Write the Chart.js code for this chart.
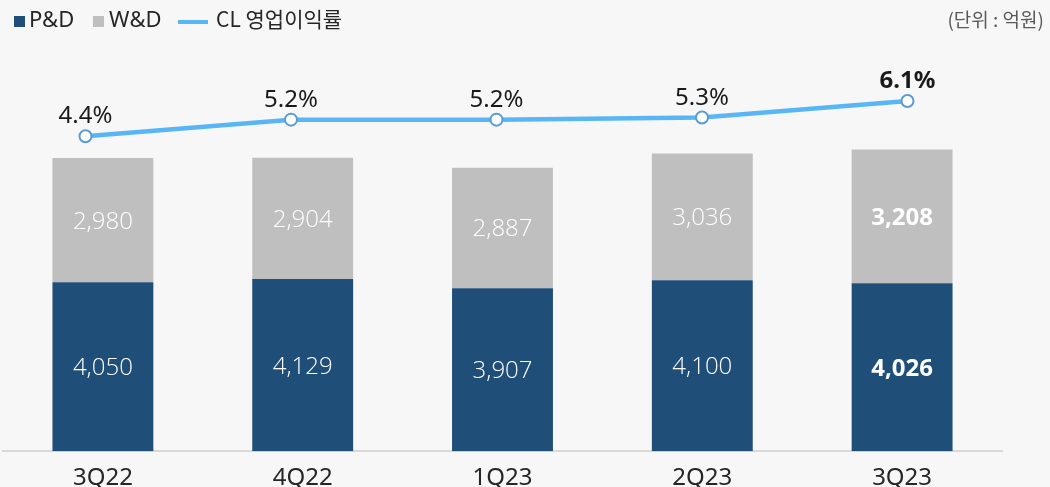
<!DOCTYPE html>
<html>
<head>
<meta charset="utf-8">
<script src="https://cdn.jsdelivr.net/npm/chart.js@4"></script>
<style>
  html, body { margin: 0; padding: 0; background: #F7F7F7; }
  #wrap { position: relative; width: 1050px; height: 487px; overflow: hidden; font-family: "Noto Sans", "Noto Sans CJK KR", sans-serif; }
  canvas { position: absolute; left: -5px; top: 0; }
  .sq { position: absolute; width: 11px; height: 11px; }
  .lt { position: absolute; font-size: 22px; line-height: 22px; color: #262626; white-space: nowrap; }
  .ln { position: absolute; height: 4px; background: #58B6F7; }
  .unit { position: absolute; right: 6px; top: 9px; font-size: 19px; line-height: 19px; color: #595959; font-family: "Noto Sans CJK KR", sans-serif; }
</style>
</head>
<body>
<div id="wrap">
  <canvas id="c" width="1050" height="487"></canvas>
  <div class="sq" style="left:14px;top:16px;background:#1F4E79"></div>
  <div class="lt" style="left:29px;top:7px">P&amp;D</div>
  <div class="sq" style="left:93px;top:16px;background:#BFBFBF"></div>
  <div class="lt" style="left:109px;top:7px">W&amp;D</div>
  <div class="ln" style="left:178px;top:20px;width:30px"></div>
  <div class="lt" style="left:216px;top:8px;font-size:21px;line-height:21px;font-family:'Noto Sans CJK KR',sans-serif">CL 영업이익률</div>
  <div class="unit">(단위 : 억원)</div>
</div>
<script>
const categories = ["3Q22", "4Q22", "1Q23", "2Q23", "3Q23"];
const pdValues = [4050, 4129, 3907, 4100, 4026];
const wdValues = [2980, 2904, 2887, 3036, 3208];
const marginValues = [4.4, 5.2, 5.2, 5.3, 6.1];

const FONT = '"Noto Sans", "Noto Sans CJK KR", sans-serif';
const BARFONT = '"Open Sans", "Noto Sans", sans-serif';
const lastIdx = categories.length - 1;

const labelPlugin = {
  id: 'valueLabels',
  afterDatasetsDraw(chart) {
    const ctx = chart.ctx;
    ctx.save();
    ctx.textAlign = 'center';
    ctx.textBaseline = 'alphabetic';
    chart.data.datasets.forEach((ds, di) => {
      const meta = chart.getDatasetMeta(di);
      meta.data.forEach((el, i) => {
        const bold = i === lastIdx;
        if (ds.type === 'line') {
          ctx.font = (bold ? 'bold ' : '') + '24px ' + FONT;
          ctx.fillStyle = '#1A1A1A';
          ctx.fillText(ds.data[i].y.toFixed(1) + '%', el.x, el.y - 13);
        } else {
          ctx.font = (bold ? 'bold ' : '300 ') + '24px ' + BARFONT;
          ctx.fillStyle = '#FFFFFF';
          const cy = (el.y + el.base) / 2;
          ctx.fillText(ds.data[i].toLocaleString('en-US'), el.x, cy + 8.5);
        }
      });
    });
    ctx.restore();
  }
};

new Chart(document.getElementById('c'), {
  data: {
    labels: categories,
    datasets: [
      {
        type: 'line',
        label: 'CL 영업이익률',
        data: marginValues.map((v, i) => ({ x: i, y: v })),
        xAxisID: 'x2',
        yAxisID: 'y2',
        borderColor: '#58B6F7',
        borderWidth: 4.5,
        pointRadius: 6,
        pointBorderWidth: 2,
        pointBackgroundColor: '#FFFFFF',
        pointBorderColor: '#5B9BD5',
        order: 0,
        clip: false
      },
      {
        type: 'bar',
        label: 'P&D',
        data: pdValues,
        backgroundColor: '#1F4E79',
        xAxisID: 'x',
        yAxisID: 'y',
        stack: 's',
        grouped: false,
        barPercentage: 0.505,
        categoryPercentage: 1,
        order: 1
      },
      {
        type: 'bar',
        label: 'W&D',
        data: wdValues,
        backgroundColor: '#BFBFBF',
        xAxisID: 'x',
        yAxisID: 'y',
        stack: 's',
        grouped: false,
        barPercentage: 0.505,
        categoryPercentage: 1,
        order: 2
      }
    ]
  },
  options: {
    responsive: false,
    devicePixelRatio: 1,
    animation: false,
    layout: { padding: { left: 0, right: 43, top: 34, bottom: -18 } },
    plugins: { legend: { display: false }, tooltip: { enabled: false } },
    scales: {
      x: {
        type: 'category',
        stacked: true,
        grid: { display: false, drawTicks: false },
        border: { display: true, color: '#D9D9D9', width: 2 },
        ticks: { color: '#262626', font: { family: FONT, size: 24 }, padding: 12.5 }
      },
      x2: { type: 'linear', display: false, min: -0.4015, max: 4.46 },
      y: { stacked: true, display: false, min: 0, max: 10000 },
      y2: { display: false, min: -10.81, max: 9.335 }
    }
  },
  plugins: [labelPlugin]
});
</script>
</body>
</html>
